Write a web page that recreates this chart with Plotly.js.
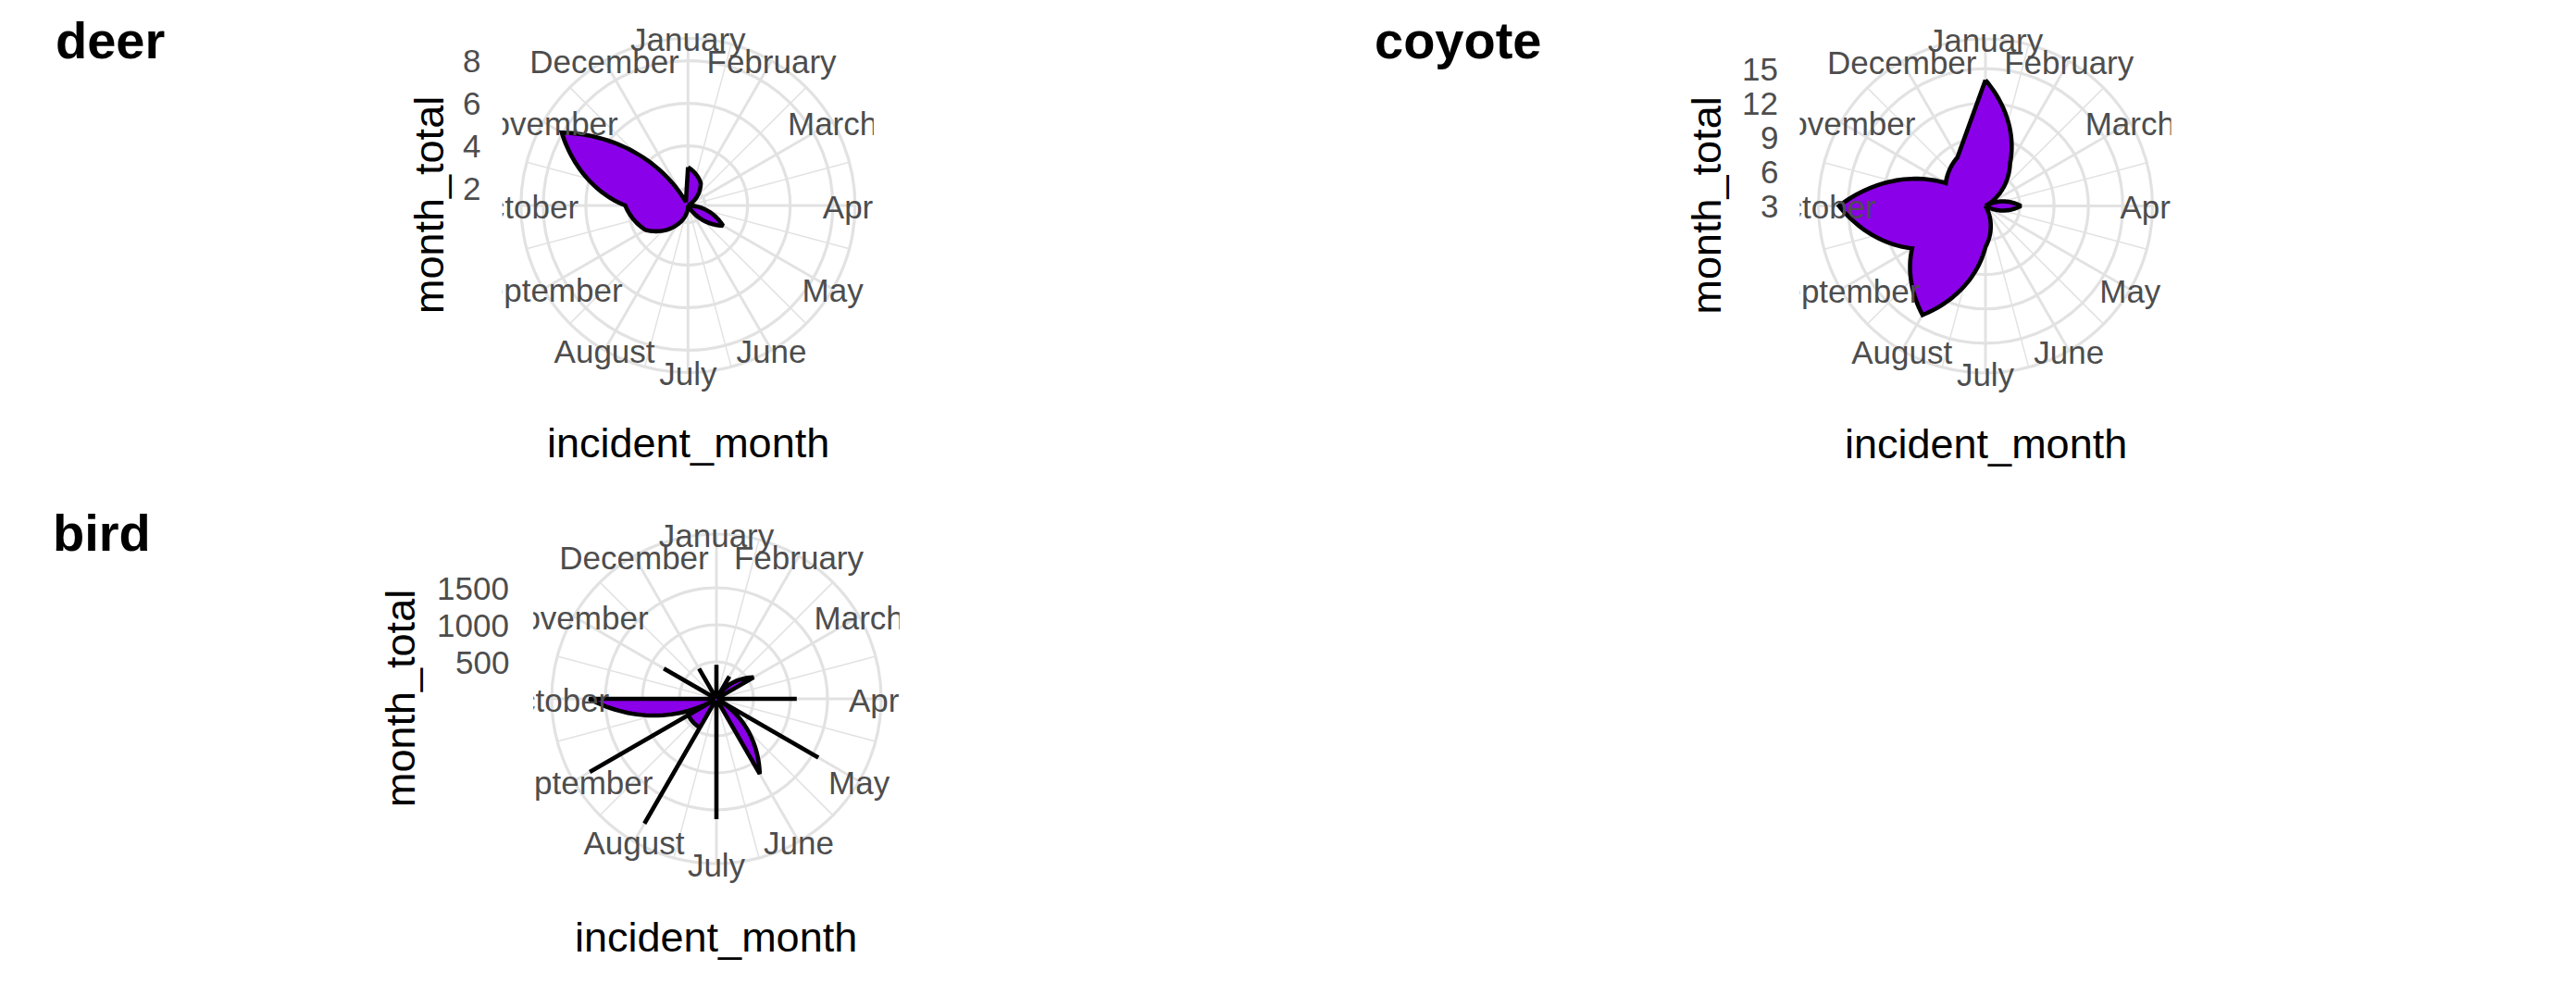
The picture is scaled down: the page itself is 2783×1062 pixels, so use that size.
<!DOCTYPE html>
<html>
<head>
<meta charset="utf-8">
<script src="https://cdn.plot.ly/plotly-3.0.1.min.js"></script>
<style>
  html, body { margin: 0; padding: 0; background: #ffffff; }
  #chart { width: 2783px; height: 1062px; }
</style>
</head>
<body>
<div id="chart"></div>
<script>
// ---------------- data ----------------
const months = ['January','February','March','April','May','June',
                'July','August','September','October','November','December'];

const deer_month = months;
const deer_total = [3.0, 2.4, 1.2, 1.2, 3.1, 1.2, 1.2, 2.25, 3.5, 4.15, 8.05, 1.4];

const coyote_month = months;
const coyote_total = [14, 7.3, 3, 6.1, 3, 3, 6.6, 14, 10.4, 15.8, 7, 7.9];

// several rows per month for birds (path visits them in this order)
const bird_month = ['January','January','January','February','February','February',
  'March','March','April','April','April','May','May','May','June','June',
  'July','July','July','August','August','August','September','September','September',
  'October','October','November','November','November','December','December','December'];
const bird_total = [60, 460, 40, 50, 350, 30,
  580, 30, 30, 1085, 40, 40, 1590, 20, 1170, 40,
  60, 1625, 60, 80, 1945, 450, 440, 1975, 20,
  1720, 40, 60, 820, 50, 60, 470, 40];

const deer_ticks = [2, 4, 6, 8];
const coyote_ticks = [3, 6, 9, 12, 15];
const bird_ticks = [500, 1000, 1500];

// ---------------- layout / style ----------------
const W = 2783, H = 1062;
const FONT = 'Liberation Sans, Arial, Helvetica, sans-serif';
const GRID = '#E2E2E2';
const PURPLE = '#8A00E8';
const TXT = '#4D4D4D';
const LABEL_DROP = 5;   // px: month labels are centred a little lower than Plotly's middle

const panels = [
  {name: 'deer',   mon: deer_month,   val: deer_total,   ticks: deer_ticks,
   cx: 743.3, cy: 222, R: 180.5, rmin: 1.2, pxPerUnit: 23,
   titleX: 58, titleY: 44, yTitleX: 464},
  {name: 'coyote', mon: coyote_month, val: coyote_total, ticks: coyote_ticks,
   cx: 2145, cy: 222.5, R: 180.5, rmin: 3, pxPerUnit: 12.36,
   titleX: 1483, titleY: 44, yTitleX: 1843},
  {name: 'bird',   mon: bird_month,   val: bird_total,   ticks: bird_ticks,
   cx: 774, cy: 755, R: 178, rmin: 0, pxPerUnit: 0.08,
   titleX: 55, titleY: 575, yTitleX: 432}
];

// In the original polar coordinate system, a straight segment between two
// monthly readings is drawn as a spiral (angle and radius change together).
// The path is subdivided per degree so Plotly bends it the same way.
function polarPath(monArr, valArr) {
  const th = [], r = [];
  for (let k = 0; k < valArr.length; k++) {
    const t1 = months.indexOf(monArr[k]) * 30, v1 = valArr[k];
    if (k > 0) {
      const t0 = months.indexOf(monArr[k - 1]) * 30, v0 = valArr[k - 1];
      const n = Math.max(1, Math.round(Math.abs(t1 - t0)));
      for (let s = 1; s < n; s++) {
        th.push(t0 + (t1 - t0) * s / n);
        r.push(v0 + (v1 - v0) * s / n);
      }
    }
    th.push(t1); r.push(v1);
  }
  th.push(th[0]); r.push(r[0]);
  return {th, r};
}

const data = [];
const layout = {
  width: W, height: H,
  margin: {l: 0, r: 0, t: 0, b: 0},
  paper_bgcolor: '#ffffff',
  plot_bgcolor: 'rgba(0,0,0,0)',
  showlegend: false,
  annotations: [],
  shapes: []
};

const angCommon = {type: 'linear', thetaunit: 'degrees', rotation: 90, direction: 'clockwise',
                   showticklabels: false, ticks: ''};

// minor-spoke polars first (underneath)
panels.forEach((p, i) => {
  p.rmax = p.rmin + p.R / p.pxPerUnit;
  p.xd = [(p.cx - p.R) / W, (p.cx + p.R) / W];
  p.yd = [(H - p.cy - p.R) / H, (H - p.cy + p.R) / H];
  const id = i === 0 ? 'polar' : 'polar' + (i + 1);
  layout[id] = {
    domain: {x: p.xd, y: p.yd},
    bgcolor: '#ffffff',
    radialaxis: {range: [p.rmin, p.rmax], showgrid: false, showticklabels: false,
                 showline: false, ticks: ''},
    angularaxis: Object.assign({}, angCommon, {tickmode: 'linear', tick0: 15, dtick: 30,
                  showline: false, gridcolor: GRID, gridwidth: 1.5})
  };
  data.push({type: 'scatterpolar', subplot: id, r: [p.rmin], theta: [0],
             mode: 'markers', marker: {opacity: 0}, hoverinfo: 'skip'});
});

// main polars with the data
panels.forEach((p, i) => {
  const id = 'polar' + (i + 4);
  layout[id] = {
    domain: {x: p.xd, y: p.yd},
    bgcolor: 'rgba(0,0,0,0)',
    radialaxis: {range: [p.rmin, p.rmax], tickmode: 'array', tickvals: p.ticks,
                 showticklabels: false, ticks: '', showline: false,
                 gridcolor: GRID, gridwidth: 3.2, layer: 'below traces'},
    angularaxis: Object.assign({}, angCommon, {tickmode: 'linear', tick0: 0, dtick: 30,
                  showline: true, linecolor: GRID, linewidth: 3.2,
                  gridcolor: GRID, gridwidth: 2.9, layer: 'below traces'})
  };
  const path = polarPath(p.mon, p.val);
  data.push({type: 'scatterpolar', subplot: id, r: path.r, theta: path.th,
             mode: 'lines', fill: 'toself', fillcolor: PURPLE,
             line: {color: '#000000', width: 4.6}, hoverinfo: 'skip'});
});

// month-label polars on top (same circle, nudged down a few px)
panels.forEach((p, i) => {
  const id = 'polar' + (i + 7);
  const yd = [(H - p.cy - LABEL_DROP - p.R) / H, (H - p.cy - LABEL_DROP + p.R) / H];
  layout[id] = {
    domain: {x: p.xd, y: yd},
    bgcolor: 'rgba(0,0,0,0)',
    radialaxis: {range: [p.rmin, p.rmax], showgrid: false, showticklabels: false,
                 showline: false, ticks: ''},
    angularaxis: Object.assign({}, angCommon, {showgrid: false, showline: false})
  };
  data.push({type: 'scatterpolar', subplot: id,
             r: months.map(() => p.rmax), theta: months.map((m, k) => k * 30),
             mode: 'text', text: months, textposition: 'middle center',
             textfont: {family: FONT, size: 35, color: TXT},
             cliponaxis: false, hoverinfo: 'skip'});

  // hidden cartesian axis carrying the radial scale for the tick labels
  const xk = i === 0 ? 'xaxis' : 'xaxis' + (i + 1);
  const yk = i === 0 ? 'yaxis' : 'yaxis' + (i + 1);
  const xr = i === 0 ? 'x' : 'x' + (i + 1);
  const yr = i === 0 ? 'y' : 'y' + (i + 1);
  layout[xk] = {domain: p.xd, range: [0, 1], visible: false, anchor: yr};
  layout[yk] = {domain: p.yd, range: [p.rmin - (p.rmax - p.rmin), p.rmax],
                visible: false, anchor: xr};
  p.ticks.forEach(v => {
    layout.annotations.push({xref: 'paper', x: (p.cx - 222) / W, xanchor: 'right',
      yref: yr, y: v, yanchor: 'middle', text: String(v), showarrow: false,
      font: {family: FONT, size: 35, color: TXT}});
  });

  // month labels are cut at the edge of the square panel
  const half = p.R / 0.9;
  const yb0 = (H - p.cy - half) / H, yb1 = (H - p.cy + half) / H;
  layout.shapes.push({type: 'rect', xref: 'paper', yref: 'paper', layer: 'above',
    x0: (p.cx - half - 80) / W, x1: (p.cx - half) / W, y0: yb0, y1: yb1,
    fillcolor: '#ffffff', line: {width: 0}});
  layout.shapes.push({type: 'rect', xref: 'paper', yref: 'paper', layer: 'above',
    x0: (p.cx + half) / W, x1: (p.cx + half + 80) / W, y0: yb0, y1: yb1,
    fillcolor: '#ffffff', line: {width: 0}});

  // titles
  layout.annotations.push({xref: 'paper', yref: 'paper', x: p.titleX / W, xanchor: 'left',
    y: 1 - p.titleY / H, yanchor: 'middle', text: p.name, showarrow: false,
    font: {family: FONT, size: 56, color: '#000000', weight: 'bold'}});
  layout.annotations.push({xref: 'paper', yref: 'paper', x: p.yTitleX / W, xanchor: 'center',
    y: 1 - p.cy / H, yanchor: 'middle', text: 'month_total', textangle: -90, showarrow: false,
    font: {family: FONT, size: 45, color: '#000000'}});
  layout.annotations.push({xref: 'paper', yref: 'paper', x: p.cx / W, xanchor: 'center',
    y: 1 - (p.cy + 257) / H, yanchor: 'middle', text: 'incident_month', showarrow: false,
    font: {family: FONT, size: 45, color: '#000000'}});
});

Plotly.newPlot('chart', data, layout, {displayModeBar: false, staticPlot: true});
</script>
</body>
</html>
